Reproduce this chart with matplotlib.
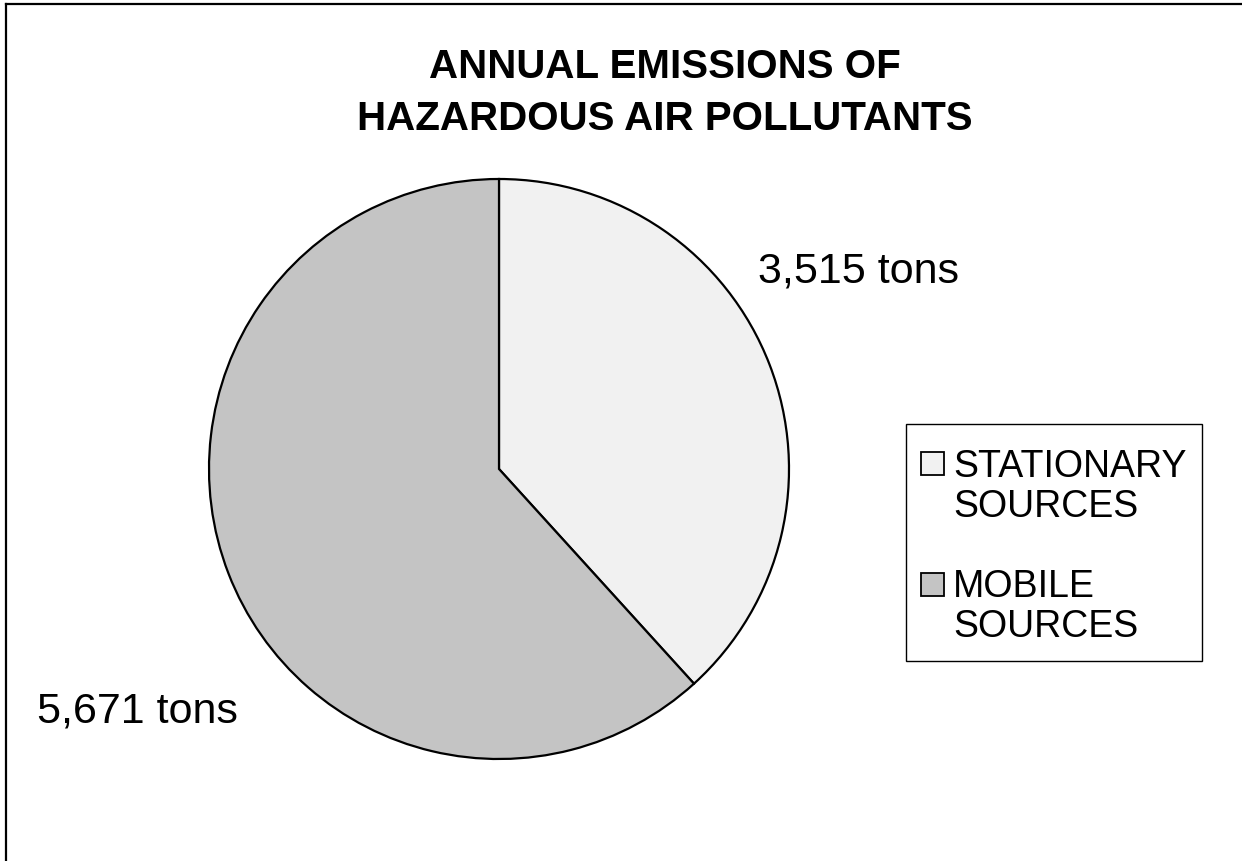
import matplotlib
matplotlib.use('Agg')
import matplotlib.pyplot as plt
from matplotlib.lines import Line2D
from matplotlib.patches import Rectangle

plt.rcParams['font.family'] = ['Liberation Sans', 'DejaVu Sans']

# data
sources = ['STATIONARY\nSOURCES', 'MOBILE\nSOURCES']
tons = [3515, 5671]
colors = ['#f1f1f1', '#c4c4c4']
title_lines = ['ANNUAL EMISSIONS OF', 'HAZARDOUS AIR POLLUTANTS']

W, H = 1242, 862
fig = plt.figure(figsize=(W / 100, H / 100), dpi=100)


def fx(px):
    return px / W


def fy(py):
    return 1 - py / H


# outer frame (only top and left edges fall inside the picture)
fig.add_artist(Line2D([fx(6), fx(6)], [0, fy(5)], color='black', lw=1.6))
fig.add_artist(Line2D([fx(6), 1], [fy(5), fy(5)], color='black', lw=1.6))

for line, base in zip(title_lines, [78, 130]):
    fig.text(fx(665), fy(base), line, ha='center', va='baseline',
             fontsize=29, fontweight='bold')

# pie: centre (499, 470) px, radius 290 px
cx, cy, r = 499, 470, 290
ax = fig.add_axes([fx(cx - r), fy(cy + r), 2 * r / W, 2 * r / H])
wedges, _ = ax.pie(tons, colors=colors, startangle=90, counterclock=False,
                   wedgeprops=dict(edgecolor='black', linewidth=1.6))
ax.set_xlim(-1, 1)
ax.set_ylim(-1, 1)
ax.set_aspect('equal')
ax.axis('off')

# value labels
fig.text(fx(858), fy(283), f'{tons[0]:,} tons', ha='center', va='baseline', fontsize=31)
fig.text(fx(137), fy(722), f'{tons[1]:,} tons', ha='center', va='baseline', fontsize=31)

# legend box drawn by hand so the swatch sits on the first text line
fig.add_artist(Rectangle((fx(906), fy(662)), fx(1202) - fx(906), fy(425) - fy(662),
                         facecolor='white', edgecolor='black', lw=1.0,
                         transform=fig.transFigure))
for i, (name, c) in enumerate(zip(sources, colors)):
    top = 453 + i * 121
    fig.add_artist(Rectangle((fx(921), fy(top + 23)), 23 / W, 23 / H,
                             facecolor=c, edgecolor='black', lw=1.3,
                             transform=fig.transFigure))
    for j, part in enumerate(name.split('\n')):
        fig.text(fx(953), fy(477 + i * 120 + j * 40), part, ha='left',
                 va='baseline', fontsize=27)

fig.savefig('out.png', dpi=100, facecolor='white')
